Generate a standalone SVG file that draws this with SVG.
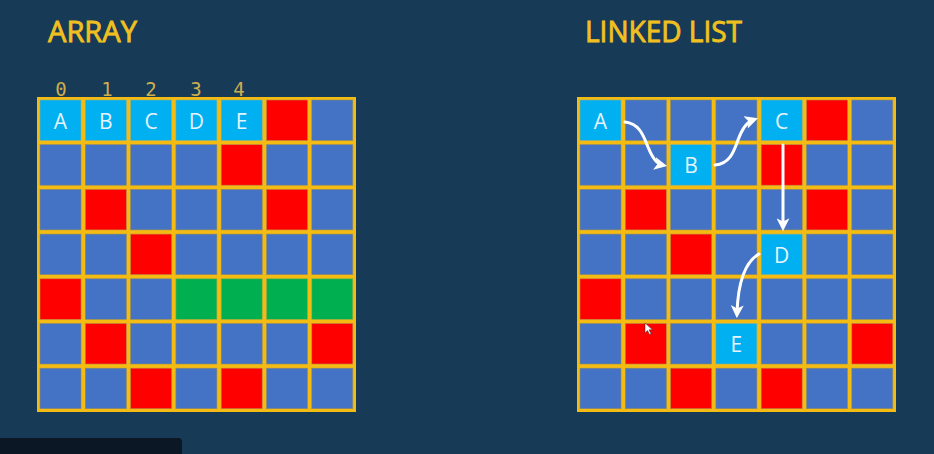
<svg xmlns="http://www.w3.org/2000/svg" width="934" height="454" viewBox="0 0 934 454">
<style>
.bg{fill:#173a57}
.frame{fill:#f4bc12}
.b{fill:#4472c4;stroke:#8c8a6a;stroke-width:0.6}
.r{fill:#ff0000;stroke:#b8864a;stroke-width:0.6}
.g{fill:#00af50;stroke:#9aa84a;stroke-width:0.6}
.l{fill:#00b0f0;stroke:#8cb090;stroke-width:0.6}
.title{font-family:"Open Sans","Liberation Sans",sans-serif;font-size:30px;fill:#f0c020;stroke:#f0c020;stroke-width:0.9}
.idx{font-family:"DejaVu Sans Mono","Liberation Mono",monospace;font-size:19px;fill:#cdae4e;text-anchor:middle}
.lbl{font-family:"Open Sans","Liberation Sans",sans-serif;font-size:21px;fill:#e6f4ff;text-anchor:middle}
.arr{fill:none;stroke:#ffffff;stroke-width:3;stroke-linecap:round}
</style>
<defs>
<marker id="ah" viewBox="0 0 10 10" refX="6" refY="5" markerUnits="userSpaceOnUse" markerWidth="13" markerHeight="13" orient="auto">
<path d="M0,0 L10,5 L0,10 L2.5,5 z" fill="#ffffff"/>
</marker>
</defs>
<rect class="bg" x="0" y="0" width="934" height="454"/>

<text class="title" x="48" y="42" textLength="89" lengthAdjust="spacingAndGlyphs">ARRAY</text>
<text class="title" x="585" y="42" textLength="157" lengthAdjust="spacingAndGlyphs">LINKED LIST</text>

<g id="indices">
<text class="idx" x="61" y="96">0</text>
<text class="idx" x="107" y="96">1</text>
<text class="idx" x="151" y="96">2</text>
<text class="idx" x="196" y="96">3</text>
<text class="idx" x="239" y="96">4</text>
</g>

<!-- ARRAY GRID -->
<g id="array-grid">
<rect class="frame" x="37" y="97" width="319" height="315"/>
<!-- row 0 -->
<rect class="r" x="266.5" y="100" width="41" height="40.5"/>
<rect class="b" x="311.8" y="100" width="41" height="40.5"/>
<!-- row 1 -->
<rect class="b" x="40" y="144.7" width="41" height="40.5"/>
<rect class="b" x="85.3" y="144.7" width="41" height="40.5"/>
<rect class="b" x="130.6" y="144.7" width="41" height="40.5"/>
<rect class="b" x="175.9" y="144.7" width="41" height="40.5"/>
<rect class="r" x="221.2" y="144.7" width="41" height="40.5"/>
<rect class="b" x="266.5" y="144.7" width="41" height="40.5"/>
<rect class="b" x="311.8" y="144.7" width="41" height="40.5"/>
<!-- row 2 -->
<rect class="b" x="40" y="189.4" width="41" height="40.5"/>
<rect class="r" x="85.3" y="189.4" width="41" height="40.5"/>
<rect class="b" x="130.6" y="189.4" width="41" height="40.5"/>
<rect class="b" x="175.9" y="189.4" width="41" height="40.5"/>
<rect class="b" x="221.2" y="189.4" width="41" height="40.5"/>
<rect class="r" x="266.5" y="189.4" width="41" height="40.5"/>
<rect class="b" x="311.8" y="189.4" width="41" height="40.5"/>
<!-- row 3 -->
<rect class="b" x="40" y="234.1" width="41" height="40.5"/>
<rect class="b" x="85.3" y="234.1" width="41" height="40.5"/>
<rect class="r" x="130.6" y="234.1" width="41" height="40.5"/>
<rect class="b" x="175.9" y="234.1" width="41" height="40.5"/>
<rect class="b" x="221.2" y="234.1" width="41" height="40.5"/>
<rect class="b" x="266.5" y="234.1" width="41" height="40.5"/>
<rect class="b" x="311.8" y="234.1" width="41" height="40.5"/>
<!-- row 4 -->
<rect class="r" x="40" y="278.8" width="41" height="40.5"/>
<rect class="b" x="85.3" y="278.8" width="41" height="40.5"/>
<rect class="b" x="130.6" y="278.8" width="41" height="40.5"/>
<rect class="g" x="175.9" y="278.8" width="41" height="40.5"/>
<rect class="g" x="221.2" y="278.8" width="41" height="40.5"/>
<rect class="g" x="266.5" y="278.8" width="41" height="40.5"/>
<rect class="g" x="311.8" y="278.8" width="41" height="40.5"/>
<!-- row 5 -->
<rect class="b" x="40" y="323.5" width="41" height="40.5"/>
<rect class="r" x="85.3" y="323.5" width="41" height="40.5"/>
<rect class="b" x="130.6" y="323.5" width="41" height="40.5"/>
<rect class="b" x="175.9" y="323.5" width="41" height="40.5"/>
<rect class="b" x="221.2" y="323.5" width="41" height="40.5"/>
<rect class="b" x="266.5" y="323.5" width="41" height="40.5"/>
<rect class="r" x="311.8" y="323.5" width="41" height="40.5"/>
<!-- row 6 -->
<rect class="b" x="40" y="368.2" width="41" height="40.5"/>
<rect class="b" x="85.3" y="368.2" width="41" height="40.5"/>
<rect class="r" x="130.6" y="368.2" width="41" height="40.5"/>
<rect class="b" x="175.9" y="368.2" width="41" height="40.5"/>
<rect class="r" x="221.2" y="368.2" width="41" height="40.5"/>
<rect class="b" x="266.5" y="368.2" width="41" height="40.5"/>
<rect class="b" x="311.8" y="368.2" width="41" height="40.5"/>
</g>
<g id="array-A"><rect class="l" x="40" y="100" width="41" height="40.5"/><text class="lbl" x="60.5" y="128.5">A</text></g>
<g id="array-B"><rect class="l" x="85.3" y="100" width="41" height="40.5"/><text class="lbl" x="105.8" y="128.5">B</text></g>
<g id="array-C"><rect class="l" x="130.6" y="100" width="41" height="40.5"/><text class="lbl" x="151.1" y="128.5">C</text></g>
<g id="array-D"><rect class="l" x="175.9" y="100" width="41" height="40.5"/><text class="lbl" x="196.4" y="128.5">D</text></g>
<g id="array-E"><rect class="l" x="221.2" y="100" width="41" height="40.5"/><text class="lbl" x="241.7" y="128.5">E</text></g>

<!-- LINKED LIST GRID -->
<g id="list-grid" transform="translate(540,0)">
<rect class="frame" x="37" y="97" width="319" height="315"/>
<!-- row 0 -->
<rect class="b" x="85.3" y="100" width="41" height="40.5"/>
<rect class="b" x="130.6" y="100" width="41" height="40.5"/>
<rect class="b" x="175.9" y="100" width="41" height="40.5"/>
<rect class="r" x="266.5" y="100" width="41" height="40.5"/>
<rect class="b" x="311.8" y="100" width="41" height="40.5"/>
<!-- row 1 -->
<rect class="b" x="40" y="144.7" width="41" height="40.5"/>
<rect class="b" x="85.3" y="144.7" width="41" height="40.5"/>
<rect class="b" x="175.9" y="144.7" width="41" height="40.5"/>
<rect class="r" x="221.2" y="144.7" width="41" height="40.5"/>
<rect class="b" x="266.5" y="144.7" width="41" height="40.5"/>
<rect class="b" x="311.8" y="144.7" width="41" height="40.5"/>
<!-- row 2 -->
<rect class="b" x="40" y="189.4" width="41" height="40.5"/>
<rect class="r" x="85.3" y="189.4" width="41" height="40.5"/>
<rect class="b" x="130.6" y="189.4" width="41" height="40.5"/>
<rect class="b" x="175.9" y="189.4" width="41" height="40.5"/>
<rect class="b" x="221.2" y="189.4" width="41" height="40.5"/>
<rect class="r" x="266.5" y="189.4" width="41" height="40.5"/>
<rect class="b" x="311.8" y="189.4" width="41" height="40.5"/>
<!-- row 3 -->
<rect class="b" x="40" y="234.1" width="41" height="40.5"/>
<rect class="b" x="85.3" y="234.1" width="41" height="40.5"/>
<rect class="r" x="130.6" y="234.1" width="41" height="40.5"/>
<rect class="b" x="175.9" y="234.1" width="41" height="40.5"/>
<rect class="b" x="266.5" y="234.1" width="41" height="40.5"/>
<rect class="b" x="311.8" y="234.1" width="41" height="40.5"/>
<!-- row 4 -->
<rect class="r" x="40" y="278.8" width="41" height="40.5"/>
<rect class="b" x="85.3" y="278.8" width="41" height="40.5"/>
<rect class="b" x="130.6" y="278.8" width="41" height="40.5"/>
<rect class="b" x="175.9" y="278.8" width="41" height="40.5"/>
<rect class="b" x="221.2" y="278.8" width="41" height="40.5"/>
<rect class="b" x="266.5" y="278.8" width="41" height="40.5"/>
<rect class="b" x="311.8" y="278.8" width="41" height="40.5"/>
<!-- row 5 -->
<rect class="b" x="40" y="323.5" width="41" height="40.5"/>
<rect class="r" x="85.3" y="323.5" width="41" height="40.5"/>
<rect class="b" x="130.6" y="323.5" width="41" height="40.5"/>
<rect class="b" x="221.2" y="323.5" width="41" height="40.5"/>
<rect class="b" x="266.5" y="323.5" width="41" height="40.5"/>
<rect class="r" x="311.8" y="323.5" width="41" height="40.5"/>
<!-- row 6 -->
<rect class="b" x="40" y="368.2" width="41" height="40.5"/>
<rect class="b" x="85.3" y="368.2" width="41" height="40.5"/>
<rect class="r" x="130.6" y="368.2" width="41" height="40.5"/>
<rect class="b" x="175.9" y="368.2" width="41" height="40.5"/>
<rect class="r" x="221.2" y="368.2" width="41" height="40.5"/>
<rect class="b" x="266.5" y="368.2" width="41" height="40.5"/>
<rect class="b" x="311.8" y="368.2" width="41" height="40.5"/>
</g>
<g id="list-A"><rect class="l" x="580" y="100" width="41" height="40.5"/><text class="lbl" x="600.5" y="128.5">A</text></g>
<g id="list-B"><rect class="l" x="670.6" y="144.7" width="41" height="40.5"/><text class="lbl" x="691.1" y="173.2">B</text></g>
<g id="list-C"><rect class="l" x="761.2" y="100" width="41" height="40.5"/><text class="lbl" x="781.7" y="128.5">C</text></g>
<g id="list-D"><rect class="l" x="761.2" y="234.1" width="41" height="40.5"/><text class="lbl" x="781.7" y="262.6">D</text></g>
<g id="list-E"><rect class="l" x="715.9" y="323.5" width="41" height="40.5"/><text class="lbl" x="736.4" y="352">E</text></g>

<g id="connectors">
<path class="arr" d="M625,122 C641,124 644,138 648,147 C652,157 657,164 662,165" marker-end="url(#ah)"/>
<path class="arr" d="M715,165 C730,164 734,151 738,140 C742,129 747,122 753,120" marker-end="url(#ah)"/>
<path class="arr" d="M783,145 L783,226" marker-end="url(#ah)"/>
<path class="arr" d="M759,254 C745,262 738,283 737,313" marker-end="url(#ah)"/>
</g>

<path d="M645,323 L645,333 L647.5,330.5 L649.5,334.5 L651,333.8 L649,329.8 L652.5,329.8 Z" fill="#ffffff" stroke="#333333" stroke-width="0.5"/>
<path d="M0,438 L178,438 Q182,438 182,442 L182,454 L0,454 Z" fill="#0b1724"/>
</svg>
